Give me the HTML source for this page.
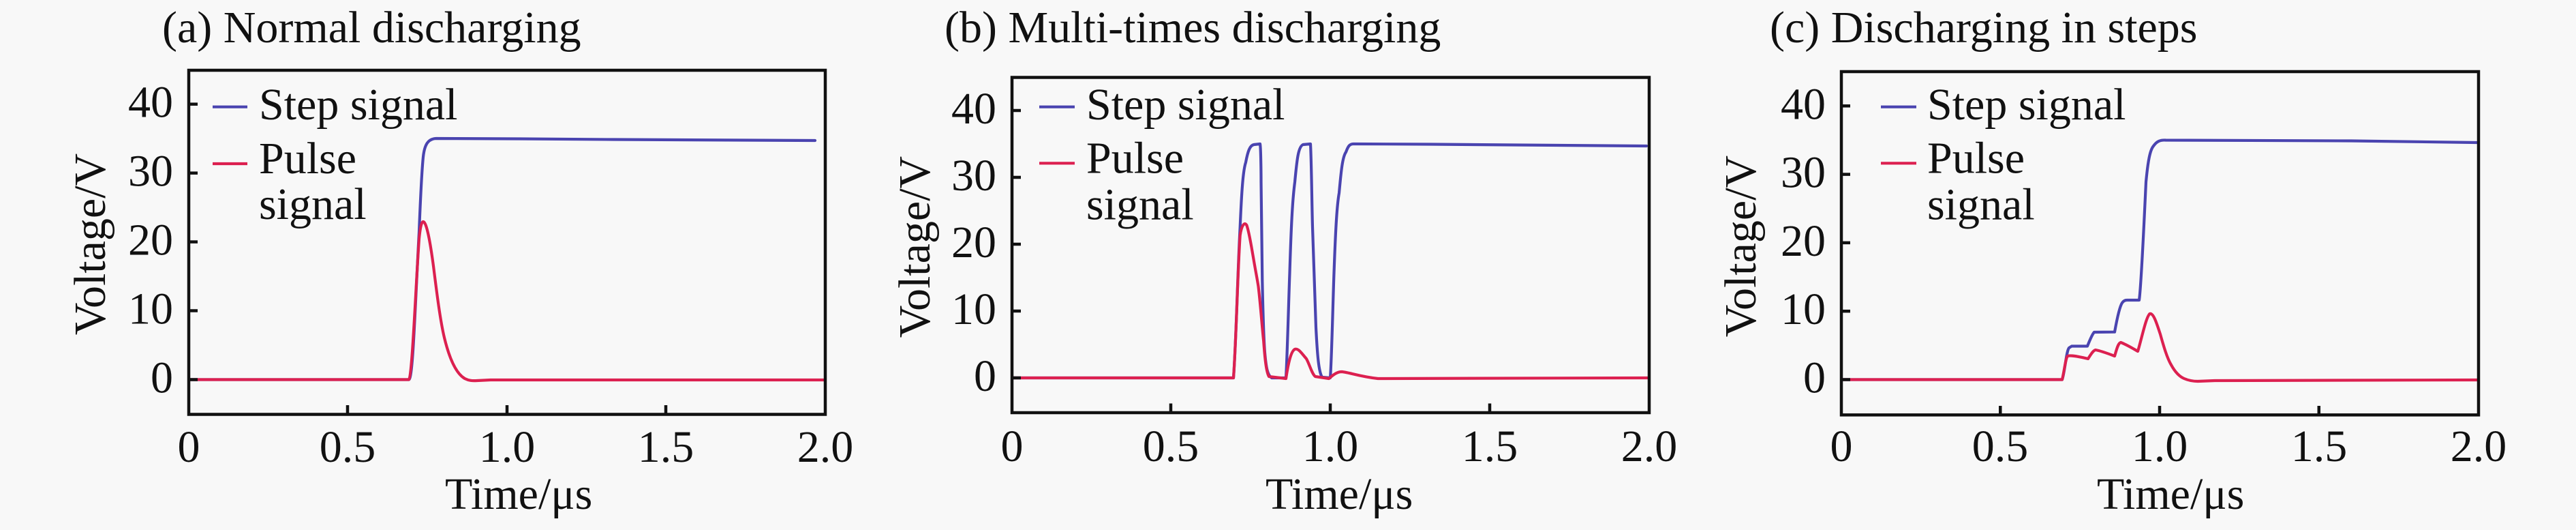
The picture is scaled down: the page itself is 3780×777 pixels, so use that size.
<!DOCTYPE html>
<html>
<head>
<meta charset="utf-8">
<style>
html,body{margin:0;padding:0;background:#f8f8f8;}
svg{display:block;}
text{font-family:"Liberation Serif",serif;font-size:66px;fill:#111;}
</style>
</head>
<body>
<svg width="3780" height="777" viewBox="0 0 3780 777" xmlns="http://www.w3.org/2000/svg">
<rect x="0" y="0" width="3780" height="777" fill="#f8f8f8"/>

<!-- ================= Panel A ================= -->
<text x="238" y="62">(a) Normal discharging</text>
<g fill="none" stroke-linejoin="round" stroke-linecap="round">
  <path d="M279,556.5 L600,556.5 C606,556 609,450 615,340 C617,290 619,250 621,230 C623,212 628,203.5 640,203 L760,203.5 L900,204.5 L1196,206" stroke="#4a44b0" stroke-width="4.2"/>
  <path d="M279,556.5 L600,556.5 C605,550 610,420 615,350 C617,330 619,325 621,325 C625,325 630,345 636,390 C641,430 646,470 652,495 C660,528 670,548 682,555 C688,558 693,558.5 700,558 L720,557 L1209,557" stroke="#dc2050" stroke-width="4.2"/>
</g>
<!-- legend a -->
<line x1="312" y1="156.7" x2="363" y2="156.7" stroke="#4a44b0" stroke-width="4.2"/>
<line x1="312" y1="240" x2="363" y2="240" stroke="#dc2050" stroke-width="4.2"/>
<text x="380" y="175">Step signal</text>
<text x="380" y="254">Pulse</text>
<text x="380" y="321">signal</text>
<!-- axes a -->
<rect x="277" y="103" width="934" height="504.5" fill="none" stroke="#111" stroke-width="4.5"/>
<g stroke="#111" stroke-width="4.5">
  <line x1="277" y1="556.5" x2="290" y2="556.5"/>
  <line x1="277" y1="455.5" x2="290" y2="455.5"/>
  <line x1="277" y1="354.6" x2="290" y2="354.6"/>
  <line x1="277" y1="253.7" x2="290" y2="253.7"/>
  <line x1="277" y1="152.7" x2="290" y2="152.7"/>
  <line x1="510" y1="607.5" x2="510" y2="594"/>
  <line x1="744" y1="607.5" x2="744" y2="594"/>
  <line x1="977" y1="607.5" x2="977" y2="594"/>
</g>
<g text-anchor="end">
  <text x="254" y="575.5">0</text>
  <text x="254" y="474.5">10</text>
  <text x="254" y="373.6">20</text>
  <text x="254" y="272.7">30</text>
  <text x="254" y="171.7">40</text>
</g>
<g text-anchor="middle">
  <text x="277" y="677">0</text>
  <text x="510" y="677">0.5</text>
  <text x="744" y="677">1.0</text>
  <text x="977" y="677">1.5</text>
  <text x="1211" y="677">2.0</text>
</g>
<text x="0" y="0" text-anchor="middle" transform="translate(154,358) rotate(-90)">Voltage/V</text>
<text x="653" y="746">Time/μs</text>

<!-- ================= Panel B ================= -->
<text x="1386" y="62">(b) Multi-times discharging</text>
<g fill="none" stroke-linejoin="round" stroke-linecap="round">
  <path d="M1487,554 L1810,554 C1814,500 1816,400 1819.7,333 C1822,280 1824,250 1828,238 C1831,222 1834,213 1840,212 L1849,211 C1850,215 1850.5,250 1850.5,267 L1852.3,413 C1853.5,470 1855,505 1856,517 C1858,540 1860,550 1866,554 L1887,554 C1889,520 1891,440 1892.5,400 C1895,320 1897,290 1900,267 C1903,235 1905,215 1912,212 L1923,211 C1924.5,240 1925,300 1926,333 L1931,480 C1933,520 1935,545 1940,553 L1952,554 C1954,530 1956,440 1957.5,400 C1960,330 1962,300 1965,283 C1968,250 1970,230 1975,223 C1978,215 1980,211 1986,211 L2100,211.5 L2416,214" stroke="#4a44b0" stroke-width="4.2"/>
  <path d="M1487,554 L1810,554 C1814,500 1816,400 1819.7,345 C1822,330 1826,325 1829.3,330 C1833,340 1836,360 1839,377 C1842,395 1845,410 1846.5,420 C1850,450 1852,480 1854.2,500 C1856,525 1858,545 1862,552 L1887,555 C1890,535 1894,515 1900,512 C1905,510 1910,518 1917,526 C1922,535 1925,548 1930,552 L1950,555 C1958,548 1963,545 1969,545 C1980,546 1995,552 2022,555 L2418,554" stroke="#dc2050" stroke-width="4.2"/>
</g>
<line x1="1525" y1="156.7" x2="1577" y2="156.7" stroke="#4a44b0" stroke-width="4.2"/>
<line x1="1525" y1="239.3" x2="1577" y2="239.3" stroke="#dc2050" stroke-width="4.2"/>
<text x="1594" y="175">Step signal</text>
<text x="1594" y="253.5">Pulse</text>
<text x="1594" y="321.5">signal</text>
<rect x="1485" y="113.5" width="935" height="491.5" fill="none" stroke="#111" stroke-width="4.5"/>
<g stroke="#111" stroke-width="4.5">
  <line x1="1485" y1="554" x2="1498" y2="554"/>
  <line x1="1485" y1="456" x2="1498" y2="456"/>
  <line x1="1485" y1="358" x2="1498" y2="358"/>
  <line x1="1485" y1="260" x2="1498" y2="260"/>
  <line x1="1485" y1="162" x2="1498" y2="162"/>
  <line x1="1718" y1="605" x2="1718" y2="591.5"/>
  <line x1="1952" y1="605" x2="1952" y2="591.5"/>
  <line x1="2186" y1="605" x2="2186" y2="591.5"/>
</g>
<g text-anchor="end">
  <text x="1462" y="573">0</text>
  <text x="1462" y="475">10</text>
  <text x="1462" y="377">20</text>
  <text x="1462" y="279">30</text>
  <text x="1462" y="181">40</text>
</g>
<g text-anchor="middle">
  <text x="1485" y="676">0</text>
  <text x="1718" y="676">0.5</text>
  <text x="1952" y="676">1.0</text>
  <text x="2186" y="676">1.5</text>
  <text x="2420" y="676">2.0</text>
</g>
<text x="0" y="0" text-anchor="middle" transform="translate(1364,362) rotate(-90)">Voltage/V</text>
<text x="1857" y="746">Time/μs</text>

<!-- ================= Panel C ================= -->
<text x="2597" y="62">(c) Discharging in steps</text>
<g fill="none" stroke-linejoin="round" stroke-linecap="round">
  <path d="M2704,556.5 L3026,556.5 C3030,545 3032,515 3036,510 L3040,507.5 L3063,507.5 C3066,500 3070,490 3073,487 L3103,486.7 C3106,470 3110,450 3114,444 C3116,441 3118,440 3121,440 L3139,440 C3142,420 3146,330 3149,266.7 C3152,235 3155,220 3160,214 C3165,207 3170,205 3178,205.5 L3450,206.5 L3635,209" stroke="#4a44b0" stroke-width="4.2"/>
  <path d="M2704,556.5 L3026,556.5 C3029,545 3031,525 3034,522 C3040,520 3055,524 3064,526 C3068,520 3071,514 3075,513 C3085,515 3095,519 3103,522 C3106,512 3108,503 3112,502 C3120,505 3130,511 3137,515 C3143,495 3149,465 3154.5,460 C3160,458 3165,475 3170,490 C3175,508 3180,525 3186,535 C3192,546 3198,552 3205,555 C3212,558 3218,559 3225,559 L3250,558 L3635,557" stroke="#dc2050" stroke-width="4.2"/>
</g>
<line x1="2760" y1="156.7" x2="2812" y2="156.7" stroke="#4a44b0" stroke-width="4.2"/>
<line x1="2760" y1="239.3" x2="2812" y2="239.3" stroke="#dc2050" stroke-width="4.2"/>
<text x="2828" y="175">Step signal</text>
<text x="2828" y="253.5">Pulse</text>
<text x="2828" y="321.5">signal</text>
<rect x="2702" y="105" width="935" height="503.3" fill="none" stroke="#111" stroke-width="4.5"/>
<g stroke="#111" stroke-width="4.5">
  <line x1="2702" y1="556.5" x2="2715" y2="556.5"/>
  <line x1="2702" y1="456.2" x2="2715" y2="456.2"/>
  <line x1="2702" y1="355.9" x2="2715" y2="355.9"/>
  <line x1="2702" y1="255.6" x2="2715" y2="255.6"/>
  <line x1="2702" y1="155.3" x2="2715" y2="155.3"/>
  <line x1="2935.25" y1="608.3" x2="2935.25" y2="595"/>
  <line x1="3169" y1="608.3" x2="3169" y2="595"/>
  <line x1="3402.75" y1="608.3" x2="3402.75" y2="595"/>
</g>
<g text-anchor="end">
  <text x="2679" y="575.5">0</text>
  <text x="2679" y="475.2">10</text>
  <text x="2679" y="374.9">20</text>
  <text x="2679" y="274.6">30</text>
  <text x="2679" y="174.3">40</text>
</g>
<g text-anchor="middle">
  <text x="2702" y="676">0</text>
  <text x="2935" y="676">0.5</text>
  <text x="3169" y="676">1.0</text>
  <text x="3403" y="676">1.5</text>
  <text x="3637" y="676">2.0</text>
</g>
<text x="0" y="0" text-anchor="middle" transform="translate(2576,361) rotate(-90)">Voltage/V</text>
<text x="3077" y="746">Time/μs</text>
</svg>
</body>
</html>
